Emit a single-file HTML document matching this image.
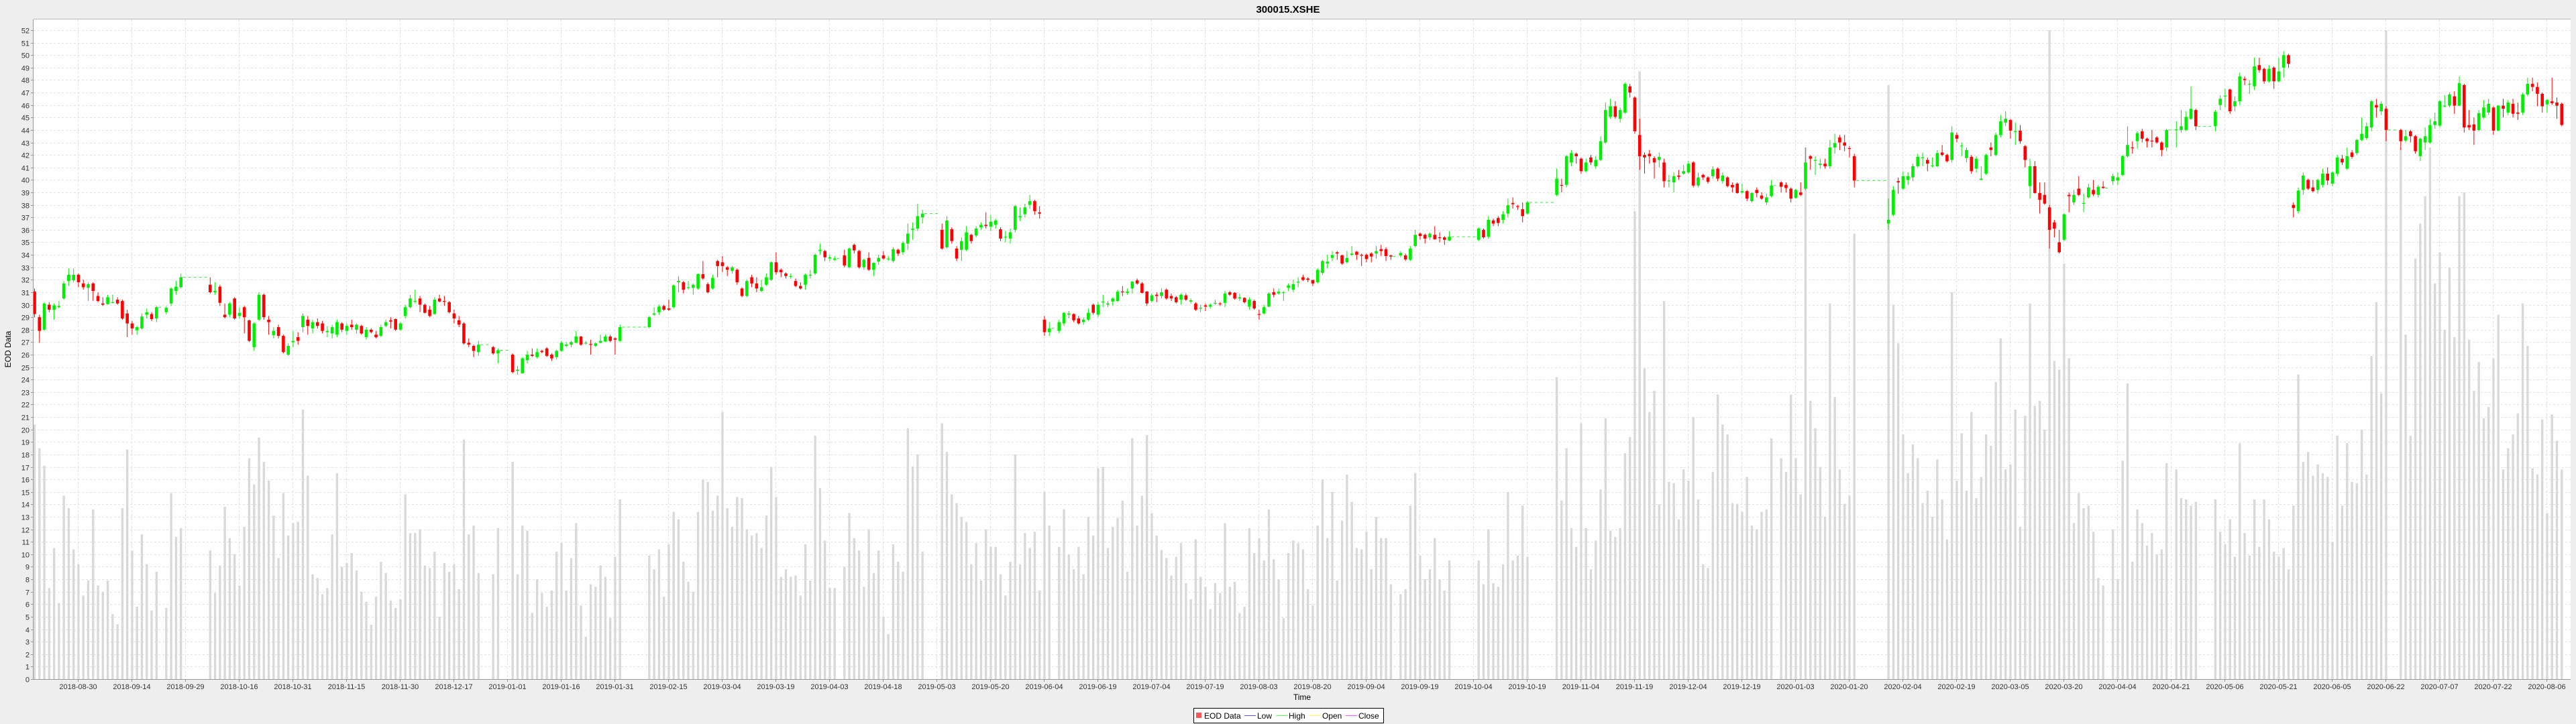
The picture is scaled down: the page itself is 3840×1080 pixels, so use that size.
<!DOCTYPE html>
<html><head><meta charset="utf-8"><title>300015.XSHE</title>
<style>
html,body{margin:0;padding:0;background:#eeeeee;}
svg{display:block;font-family:"Liberation Sans",Arial,sans-serif;}
</style></head>
<body>
<svg id="chart" width="3840" height="1080" viewBox="0 0 3840 1080" xmlns="http://www.w3.org/2000/svg">
<rect x="0" y="0" width="3840" height="1080" fill="#eeeeee"/>
<text x="1920" y="19" text-anchor="middle" font-size="15" font-weight="bold" fill="#000">300015.XSHE</text>
<rect x="50" y="29" width="3782" height="984" fill="#ffffff"/>
<g id="grid"></g>
<g id="vol"></g>
<g id="gaps"></g>
<g id="candles"></g>
<g id="axes"></g>
<text x="16" y="521" transform="rotate(-90 16 521)" text-anchor="middle" font-size="12" fill="#000">EOD Data</text>
<text x="1941" y="1044" text-anchor="middle" font-size="12" fill="#000">Time</text>
<g>
<rect x="1779.5" y="1056.5" width="283" height="22" fill="#fff" stroke="#000" stroke-width="1"/>
<rect x="1783" y="1063" width="8" height="8" fill="#ff5555"/>
<text x="1795" y="1072" font-size="12">EOD Data</text>
<line x1="1855" y1="1067.5" x2="1872" y2="1067.5" stroke="#5555ff"/>
<text x="1874" y="1072" font-size="12">Low</text>
<line x1="1902" y1="1067.5" x2="1919" y2="1067.5" stroke="#55ff55"/>
<text x="1921" y="1072" font-size="12">High</text>
<line x1="1952" y1="1067.5" x2="1969" y2="1067.5" stroke="#ffff55"/>
<text x="1971" y="1072" font-size="12">Open</text>
<line x1="2006" y1="1067.5" x2="2023" y2="1067.5" stroke="#ff55ff"/>
<text x="2025" y="1072" font-size="12">Close</text>
</g>
</svg>
<script>
const N=null;
const tickLabels=["2018-08-30","2018-09-14","2018-09-29","2018-10-16","2018-10-31","2018-11-15","2018-11-30","2018-12-17","2019-01-01","2019-01-16","2019-01-31","2019-02-15","2019-03-04","2019-03-19","2019-04-03","2019-04-18","2019-05-03","2019-05-20","2019-06-04","2019-06-19","2019-07-04","2019-07-19","2019-08-03","2019-08-20","2019-09-04","2019-09-19","2019-10-04","2019-10-19","2019-11-04","2019-11-19","2019-12-04","2019-12-19","2020-01-03","2020-01-20","2020-02-04","2020-02-19","2020-03-05","2020-03-20","2020-04-04","2020-04-21","2020-05-06","2020-05-21","2020-06-05","2020-06-22","2020-07-07","2020-07-22","2020-08-06"];
const tickDayIndex=9, tickEveryDays=11;
const rows=`31.06 29.25 31.3 29.0 20.4
29.0 27.9 29.2 26.95 18.5
28.0 30.1 30.2 27.9 17.1
30.0 29.6 30.2 29.4 7.3
29.6 29.95 30.1 28.8 10.5
29.8 29.9 30.3 29.7 6.1
30.5 31.7 31.9 30.4 14.7
31.9 32.4 32.9 31.5 13.7
31.95 32.4 32.9 31.8 10.4
32.4 31.8 32.5 31.4 9.2
31.7 31.4 32.0 31.2 6.7
31.35 31.65 31.8 30.3 7.9
31.7 31.1 31.8 30.3 13.6
30.7 30.3 31.0 30.2 7.5
30.1 30.0 30.6 29.9 7.0
30.05 30.6 30.8 30.0 7.9
30.2 30.2 30.8 30.1 5.2
30.4 30.1 30.6 30.0 4.4
30.3 28.9 30.4 28.8 13.7
29.3 28.5 29.6 27.4 18.4
28.5 28.1 28.7 27.6 10.3
27.95 28.2 28.3 27.6 5.8
28.1 29.05 29.3 28.0 11.6
29.2 29.4 29.7 28.9 9.2
29.25 28.85 29.4 28.7 5.5
28.9 29.8 29.9 28.6 8.6
-
29.4 29.75 29.9 29.2 5.7
30.1 31.3 31.4 29.9 14.9
31.1 31.45 31.9 30.8 11.4
31.4 32.2 32.5 31.3 12.1
-
-
-
-
-
31.6 31.0 32.2 30.9 10.3
31.0 31.1 31.8 30.8 6.9
31.45 30.15 31.6 29.9 9.1
29.2 29.0 30.1 28.9 13.8
29.2 30.1 30.2 29.0 11.3
30.5 28.9 30.6 28.8 10.0
29.1 29.35 29.8 28.9 7.5
29.8 29.0 29.9 27.7 12.2
28.75 27.1 28.8 27.0 17.7
26.6 28.5 28.6 26.3 15.6
28.8 30.8 31.0 28.7 19.35
30.8 29.0 30.9 28.8 17.4
28.8 28.6 29.1 27.6 15.9
27.55 27.9 28.2 27.3 13.1
28.2 27.5 28.4 27.3 9.7
27.5 26.2 27.6 26.1 14.9
26.0 26.7 26.9 25.9 11.5
27.0 27.1 27.9 26.6 12.5
27.4 27.1 27.8 26.8 12.6
28.2 29.1 29.3 27.8 21.6
28.8 28.3 29.1 27.6 16.3
28.1 28.6 28.8 27.7 8.4
28.6 28.3 28.9 28.1 8.1
28.5 27.9 28.7 27.7 6.8
27.8 27.9 28.3 27.4 7.3
27.7 28.2 28.4 27.3 11.6
27.6 28.6 28.8 27.4 16.5
28.5 28.0 28.6 27.8 9.0
27.9 28.3 28.5 27.6 9.3
28.4 28.2 28.8 28.0 10.1
28.0 28.4 28.5 27.7 8.7
28.3 27.7 28.4 27.6 7.0
27.4 28.0 28.2 27.2 6.2
28.0 27.8 28.1 27.7 4.35
27.6 27.4 27.9 27.3 6.6
27.5 28.2 28.4 27.4 9.4
28.3 28.6 28.8 28.2 8.5
28.75 28.65 29.0 28.1 6.3
28.85 28.0 28.9 27.9 5.7
28.0 28.5 28.6 27.9 6.4
29.1 29.8 30.0 28.9 14.8
29.8 30.5 30.8 29.7 11.7
30.3 30.3 31.2 30.1 11.7
30.5 30.0 30.7 29.4 12.0
30.0 29.35 30.1 29.3 9.1
29.6 29.1 29.9 29.0 8.9
29.25 30.4 30.6 29.2 10.2
30.5 30.25 30.8 30.2 5.0
30.3 30.25 30.7 29.9 9.3
30.2 29.4 30.3 29.3 8.6
29.3 28.9 29.6 28.5 9.2
28.75 28.4 29.1 28.2 7.2
28.5 26.9 28.6 26.8 19.2
26.95 26.8 27.3 26.6 11.6
26.7 26.3 26.8 25.8 12.3
26.2 26.8 27.1 25.9 8.5
-
-
26.6 26.1 26.7 26.0 8.4
26.1 26.35 26.5 25.3 12.1
-
-
26.0 24.6 26.1 24.5 17.4
24.7 24.8 25.1 24.4 8.4
24.5 25.7 25.8 24.5 12.3
25.55 26.0 26.3 25.3 11.9
26.0 25.9 26.5 25.8 5.3
25.8 26.2 26.5 25.7 8.0
26.3 26.2 26.4 26.1 6.9
26.5 25.9 26.6 25.8 5.8
26.0 25.7 26.1 25.5 7.1
25.8 26.3 26.4 25.6 10.2
26.3 26.95 27.1 26.2 10.9
26.7 26.8 27.0 26.6 7.1
26.8 27.0 27.1 26.6 9.7
26.95 27.45 27.9 26.9 12.5
27.45 26.8 27.5 26.7 5.9
26.9 26.95 27.1 26.8 3.4
26.85 26.8 27.2 26.0 7.6
26.7 26.9 27.0 26.6 7.4
26.95 27.1 27.6 26.9 9.1
27.05 27.45 27.6 27.0 8.2
27.45 27.1 27.6 27.0 4.9
27.3 27.2 27.4 26.0 9.8
27.1 28.2 28.4 27.0 14.4
-
-
-
-
-
28.2 29.0 29.1 28.1 9.9
29.2 29.3 29.8 29.1 8.8
29.4 29.85 30.0 29.2 10.4
29.9 29.6 30.0 29.5 6.6
29.7 29.6 30.4 29.5 10.8
29.8 31.55 31.6 29.7 13.4
31.8 31.9 32.3 31.0 12.8
31.8 31.2 31.9 30.9 9.4
31.35 31.4 31.9 31.2 7.8
31.35 31.6 31.7 30.8 7.0
31.3 32.45 32.5 31.2 13.4
32.45 32.1 33.5 32.0 16.0
31.65 31.0 31.8 30.9 15.8
31.3 32.15 32.4 31.2 13.5
33.5 33.1 33.6 32.2 14.7
33.4 33.1 33.9 32.6 21.4
33.0 32.8 33.1 32.3 13.7
32.7 33.0 33.1 32.5 12.2
32.8 31.8 32.9 31.6 14.6
31.3 30.7 31.4 30.6 14.5
30.7 31.9 32.0 30.6 12.0
32.2 31.7 32.4 31.4 11.5
31.7 31.3 32.2 31.0 11.7
31.1 31.4 32.0 31.0 10.5
31.6 32.2 32.5 31.5 13.1
32.0 33.4 33.5 31.9 17.0
33.4 32.6 34.2 32.4 14.6
32.8 32.6 32.9 32.2 8.2
32.5 32.3 32.6 32.1 8.8
32.3 32.3 32.5 32.1 8.2
31.9 31.5 32.1 31.4 8.3
31.5 31.3 31.8 31.2 6.7
31.6 32.4 32.5 31.2 10.8
32.35 32.4 32.8 32.1 7.9
32.5 34.0 34.1 32.4 19.5
34.3 34.4 34.9 34.0 15.3
34.3 33.8 34.4 33.5 11.1
33.7 33.8 34.0 33.5 7.3
33.6 33.7 33.9 33.5 7.3
-
33.95 33.15 34.4 33.0 9.0
33.0 34.5 34.6 32.9 13.3
34.8 34.35 34.9 34.1 11.3
34.3 33.0 34.4 32.9 10.3
33.0 33.6 33.7 32.8 7.4
33.75 32.8 34.2 32.7 12.0
32.8 33.35 33.4 32.3 8.5
33.45 33.75 34.0 33.2 10.3
33.95 33.7 34.3 33.6 5.0
33.7 33.7 33.9 33.5 3.6
33.5 34.45 34.6 33.4 10.8
34.4 34.1 34.5 33.9 9.4
34.2 34.95 35.1 34.0 8.6
34.9 35.7 36.5 34.4 20.1
36.0 36.1 36.6 35.2 17.05
36.1 37.1 38.1 35.9 18.0
37.0 37.3 37.6 36.5 10.2
-
-
-
36.0 34.5 36.5 34.4 20.5
34.6 36.75 37.1 34.5 18.2
36.05 35.1 36.2 34.9 14.8
34.5 33.7 34.7 33.5 14.1
34.4 35.1 35.4 33.5 13.0
34.4 35.8 36.3 34.3 12.6
35.6 35.1 35.7 34.9 9.2
35.55 36.1 36.3 35.4 10.9
36.2 36.4 36.6 36.0 7.9
36.4 36.3 37.4 36.1 12.0
36.25 36.65 37.2 35.9 10.6
36.4 36.75 36.9 36.1 10.6
36.05 35.3 36.2 35.1 8.4
35.4 35.45 35.9 35.0 6.7
35.3 35.8 36.1 34.9 9.4
36.0 37.9 38.0 35.8 18.0
37.0 37.1 37.8 36.7 9.2
37.25 37.8 38.1 37.0 11.7
38.0 38.3 38.8 37.7 10.5
38.3 37.5 38.4 37.2 11.8
37.4 37.3 37.9 36.9 7.1
28.8 27.8 29.1 27.5 15.0
27.8 28.1 28.6 27.5 12.3
-
27.9 28.6 28.8 27.7 10.6
28.5 29.35 29.4 28.3 13.6
29.2 29.3 29.5 28.9 10.0
29.25 28.75 29.3 28.6 8.8
28.9 28.5 29.1 28.4 10.6
28.6 28.8 29.0 28.4 8.4
28.8 29.35 29.7 28.7 13.0
30.0 29.35 30.1 29.2 11.5
29.2 30.0 30.2 29.0 16.9
30.2 30.25 30.8 29.8 17.0
30.0 30.1 30.3 29.8 10.5
30.25 30.5 30.6 29.9 12.2
30.3 31.05 31.2 30.2 12.9
31.06 31.0 31.5 30.7 14.3
30.95 31.05 31.3 30.8 8.6
31.3 31.85 31.9 30.9 19.3
31.95 31.7 32.1 31.6 12.3
31.7 30.95 31.8 30.9 14.7
31.05 30.1 31.1 29.9 19.55
30.3 30.75 30.9 30.2 13.3
30.8 30.7 31.0 30.2 11.5
30.7 31.0 31.3 30.5 10.35
31.2 30.5 31.3 30.4 9.7
30.7 30.5 30.9 30.3 8.3
30.6 30.2 30.7 30.1 9.8
30.4 30.8 30.9 30.0 10.9
30.75 30.4 30.9 30.3 7.7
30.25 30.35 30.5 30.1 6.4
30.1 29.6 30.2 29.5 11.2
29.7 29.75 30.0 29.4 8.2
29.95 29.85 30.1 29.5 7.4
29.85 30.0 30.1 29.7 5.6
30.1 30.15 30.4 30.0 7.7
30.1 30.05 30.2 29.9 6.9
30.15 30.9 31.1 29.8 12.5
31.0 30.8 31.1 30.7 7.4
30.95 30.5 31.0 30.4 7.8
30.5 30.6 30.9 30.3 5.3
30.55 30.2 30.6 30.1 5.8
29.85 30.4 30.6 29.6 12.1
30.3 29.7 30.4 29.6 10.1
29.25 29.2 29.6 28.8 11.3
29.3 29.8 30.0 29.2 9.5
29.85 30.9 31.0 29.8 13.6
31.0 30.8 31.3 30.6 9.6
30.9 31.05 31.3 30.8 8.0
30.95 31.0 31.1 30.3 4.9
31.35 31.55 31.7 31.1 10.1
31.2 31.65 32.0 31.0 11.1
31.78 31.85 32.2 31.4 10.9
32.2 31.99 32.4 31.9 10.4
32.1 31.99 32.2 31.8 7.2
31.98 31.7 32.0 31.5 5.9
31.8 32.8 32.9 31.7 12.3
32.55 33.5 33.6 32.4 16.0
33.3 33.45 34.0 32.9 11.3
33.75 33.98 34.3 33.5 15.0
34.2 34.1 34.3 33.6 7.9
33.96 33.3 34.0 33.2 12.7
33.4 33.75 34.3 33.3 16.4
34.0 34.1 34.7 33.9 14.2
34.25 34.0 34.3 33.6 10.5
34.0 33.93 34.1 33.1 10.4
34.0 33.66 34.1 33.4 11.8
34.1 33.86 34.2 33.4 8.8
34.1 34.3 34.7 33.7 13.0
34.45 34.3 34.8 33.9 11.3
34.45 33.9 34.6 33.5 11.3
33.95 33.86 34.0 33.6 7.6
-
33.95 34.15 34.3 33.8 6.8
33.95 33.63 34.1 33.5 7.2
33.6 34.5 34.7 33.5 13.9
34.7 35.6 36.0 34.6 16.5
35.7 35.5 35.8 35.2 9.9
35.6 35.3 35.7 34.9 8.0
35.4 35.7 35.8 35.2 8.8
35.6 35.25 36.3 35.2 11.3
35.4 35.35 35.8 35.0 8.0
35.4 35.2 35.5 34.8 7.1
35.15 35.45 35.9 35.1 9.5
-
-
-
-
-
35.2 36.1 36.2 35.1 9.5
36.0 35.4 36.1 35.3 7.6
35.45 36.8 37.1 35.3 12.0
36.75 36.5 36.9 36.3 7.7
36.95 36.55 37.1 36.3 7.4
36.8 37.25 37.5 36.5 9.2
37.3 37.97 38.5 37.0 15.0
38.15 38.05 38.6 37.7 9.5
37.9 37.85 38.0 37.6 9.9
37.65 37.1 38.2 36.6 13.9
37.3 38.2 38.3 37.2 9.8
-
-
-
-
-
38.8 40.1 40.9 38.7 24.2
39.6 39.55 40.1 39.0 14.3
39.6 41.9 42.0 39.4 18.5
41.4 42.15 42.4 41.1 12.1
42.1 41.9 42.2 41.3 10.6
41.7 40.7 41.8 40.5 20.5
40.7 41.4 41.7 40.6 12.1
41.8 41.4 42.0 41.2 8.8
41.1 41.6 41.9 40.9 11.1
41.6 43.1 43.5 41.5 15.2
43.0 45.6 46.2 42.9 20.9
45.05 45.9 46.5 44.9 11.9
45.9 45.05 46.3 44.9 11.4
44.9 45.6 45.8 44.6 12.1
45.4 47.7 47.8 45.3 18.1
47.5 47.0 47.7 46.6 19.4
46.6 43.9 46.7 43.7 37.5
43.6 41.9 44.9 40.8 48.7
42.0 41.8 42.2 40.5 24.9
42.1 41.9 42.4 41.3 21.4
41.75 41.4 41.9 40.1 23.1
41.6 41.85 42.2 41.0 14.0
41.4 39.9 41.7 39.4 30.3
39.9 39.95 40.4 39.4 15.8
39.8 40.3 40.6 39.0 15.7
40.35 40.25 40.8 40.0 12.8
40.5 40.7 41.2 40.4 16.8
40.6 41.3 41.5 40.5 15.9
41.4 39.55 41.5 39.4 21.0
39.55 40.2 40.6 39.4 14.4
40.4 40.2 40.5 40.0 9.2
40.2 39.85 40.3 39.7 8.9
40.3 40.85 41.1 40.1 16.6
40.9 40.1 41.0 39.9 22.8
39.9 40.35 40.6 39.7 20.4
40.2 39.5 40.3 39.4 19.6
39.6 39.4 39.8 39.0 14.1
39.7 38.95 39.8 38.9 14.05
39.0 39.1 39.7 38.9 13.4
39.1 38.5 39.2 38.3 16.2
38.3 38.95 39.0 38.2 12.3
39.2 38.95 39.4 38.6 12.0
38.75 38.5 39.0 38.4 13.4
38.2 38.6 38.9 38.0 13.6
38.7 39.55 40.0 38.6 19.3
-
39.8 39.45 39.9 39.0 17.7
39.6 39.35 39.8 39.0 16.6
39.3 38.5 39.4 38.2 22.8
38.55 39.2 39.3 38.5 17.7
39.0 38.8 39.8 38.7 14.8
39.3 41.4 42.6 39.2 42.6
41.9 41.7 42.0 40.8 22.3
41.6 41.6 41.9 40.4 20.1
41.2 41.3 41.7 40.9 17.0
41.3 41.1 41.7 40.9 13.0
41.1 42.6 43.2 40.9 30.1
42.6 42.95 43.7 42.1 22.6
43.4 43.0 43.6 42.4 16.8
43.0 42.75 43.6 42.3 14.05
42.55 42.5 42.7 41.8 14.7
41.9 39.95 42.1 39.4 35.7
-
-
-
-
-
-
36.5 36.8 38.5 36.0 47.6
37.2 39.2 39.5 37.1 30.0
39.9 39.8 40.2 38.9 26.9
39.3 40.3 40.7 39.2 19.6
40.0 40.3 40.6 39.6 16.5
40.2 41.1 41.3 39.9 18.8
41.1 41.85 42.1 41.0 17.7
41.75 41.8 42.2 41.1 14.1
41.6 41.3 41.8 40.7 15.1
41.1 41.15 41.8 41.0 13.0
41.1 42.15 42.4 41.0 17.6
42.2 42.0 42.8 41.9 14.4
42.0 41.5 42.1 41.4 11.2
41.6 43.8 44.3 41.4 31.0
43.6 43.3 43.8 43.0 15.9
42.7 42.75 43.0 41.9 19.7
41.75 42.4 42.6 41.4 15.1
41.85 40.7 42.0 40.5 21.4
40.9 41.7 41.9 40.6 14.5
40.0 40.1 41.1 40.0 16.2
40.5 42.0 42.1 40.4 19.6
42.6 42.4 43.0 41.9 18.7
42.0 43.6 43.8 41.9 23.8
43.6 44.7 45.2 43.4 27.3
44.6 44.9 45.5 44.3 16.8
44.8 43.95 44.9 43.3 17.2
43.9 43.9 44.6 42.8 21.6
43.95 43.1 44.4 42.9 12.2
42.7 41.6 42.8 41.0 21.1
39.5 41.1 41.7 38.5 30.1
41.1 38.95 41.5 38.9 21.9
38.95 38.4 39.8 37.3 22.3
38.8 38.1 39.8 38.0 20.0
37.8 36.0 38.0 34.5 52
36.6 36.1 36.8 35.4 25.5
35.0 34.2 36.0 34.1 24.8
35.2 37.25 37.3 35.1 33.3
38.8 38.7 39.0 37.4 25.7
38.2 38.8 39.2 38.0 12.5
39.3 38.8 40.3 38.7 14.9
38.1 38.15 38.9 37.4 13.7
38.6 39.4 39.7 38.5 13.9
39.2 38.85 40.0 38.7 11.8
38.8 39.45 39.6 38.6 8.1
39.45 39.35 39.9 39.3 7.5
-
39.9 40.3 40.5 39.6 12.0
39.95 40.2 40.6 39.6 8.0
40.4 41.9 42.0 40.3 17.5
41.9 42.8 44.3 41.8 23.7
42.6 42.55 43.1 42.1 9.4
43.1 43.75 43.9 42.5 13.6
43.9 43.3 44.1 43.0 12.5
43.3 43.1 43.4 42.6 10.7
43.15 43.1 44.0 42.6 11.7
43.4 43.0 43.5 42.9 10.0
43.0 42.4 43.1 41.9 10.4
42.6 44.0 44.1 42.3 17.3
-
44.0 44.05 44.7 42.6 16.8
44.0 44.3 45.6 43.8 14.5
44.0 45.05 45.5 43.9 14.4
44.9 45.7 47.5 44.8 13.9
45.6 44.3 45.7 44.0 14.2
-
-
-
44.3 45.45 45.6 43.9 14.4
46.0 46.5 46.8 45.6 11.8
46.7 46.75 47.3 45.8 10.8
47.25 45.5 47.3 45.3 12.8
45.9 46.3 46.7 45.5 9.8
46.3 48.3 48.6 46.0 18.9
48.1 48.0 48.3 47.6 11.7
47.65 47.7 48.0 46.9 9.9
47.5 49.1 49.8 47.2 14.4
49.2 48.8 49.8 48.6 10.6
48.9 47.9 49.0 47.7 14.4
47.9 48.9 49.2 47.8 12.8
49.0 47.9 49.1 47.3 10.2
47.9 48.7 49.8 47.8 9.8
49.0 50.0 50.3 48.2 10.5
50.0 49.3 50.1 49.0 8.8
38.0 37.75 38.2 37.0 13.9
37.5 39.15 39.4 37.3 24.4
39.2 40.35 40.6 38.8 17.4
40.0 39.3 40.1 39.2 18.2
39.4 39.1 40.0 39.0 16.3
39.2 40.0 40.1 38.9 17.2
39.6 40.5 40.9 39.4 16.5
40.5 39.95 41.0 39.6 16.2
39.7 40.6 40.7 39.5 11.0
40.5 41.8 42.0 40.3 19.5
41.7 41.4 42.0 41.2 13.9
40.9 41.9 42.6 40.8 18.9
42.2 41.85 42.4 41.7 15.8
42.15 43.2 43.3 42.0 15.7
43.2 43.7 45.0 43.1 20.0
43.35 44.3 44.6 43.2 16.4
44.2 46.3 46.4 43.9 25.9
46.0 45.8 46.5 45.0 30.2
45.5 46.1 46.3 45.2 22.9
45.7 44.0 45.9 43.1 52
-
-
44.0 43.1 44.1 42.4 42.6
43.15 43.5 44.0 43.0 27.6
43.9 43.5 44.0 43.0 19.5
43.5 42.3 43.6 42.1 33.7
41.9 43.3 43.4 41.5 36.5
43.0 43.5 44.2 42.4 38.7
43.0 44.4 44.9 42.9 42.6
44.4 44.7 45.4 44.1 31.7
44.35 46.3 46.4 44.2 34.2
45.9 45.95 46.8 45.8 28.0
45.95 46.85 47.0 45.8 33.0
46.7 45.95 47.1 45.3 27.4
45.95 47.75 48.3 45.9 38.7
47.6 44.2 47.7 43.8 39.0
44.4 44.2 45.6 44.0 27.2
44.45 43.95 45.0 42.8 23.1
44.0 45.35 45.6 43.9 25.4
45.0 45.8 46.4 44.9 20.9
45.4 46.1 46.5 45.2 21.8
45.8 43.95 45.9 43.6 25.7
43.95 45.95 46.0 43.9 29.2
45.95 45.7 46.5 45.0 16.8
45.4 46.2 46.4 45.2 18.5
46.1 45.3 46.5 45.0 19.6
45.4 45.3 46.2 44.8 21.3
45.4 46.85 47.0 45.2 30.1
46.85 47.7 48.2 46.7 26.7
47.7 47.45 48.2 47.1 16.9
47.45 46.9 47.8 45.9 16.4
46.9 45.9 47.0 45.4 20.8
46.05 46.4 46.5 45.4 13.3
46.3 46.15 48.2 46.0 21.2
46.2 45.95 46.6 44.9 19.1
46.1 44.4 46.2 44.3 16.8`;
// split the daily rows into separate named series arrays (null = no trading)
const openVals=[], closeVals=[], highVals=[], lowVals=[], volumeVals=[];
rows.split("\n").forEach(r=>{
  const t=r.trim();
  if(t==="-"){openVals.push(N);closeVals.push(N);highVals.push(N);lowVals.push(N);volumeVals.push(N);return;}
  const p=t.split(/\s+/).map(Number);
  openVals.push(p[0]);closeVals.push(p[1]);highVals.push(p[2]);lowVals.push(p[3]);volumeVals.push(p[4]);
});
const yTicks=[];for(let v=0;v<=52;v++)yTicks.push(v);

const NS="http://www.w3.org/2000/svg";
const PL=50,PR=3832,PT=29,PB=1013;
const X0=51.5, DX=80/11;
function xScale(i){return X0+i*DX;}
function yScale(v){return PB-v*(PB-45)/52;}
function mk(tag,attrs,parent){const e=document.createElementNS(NS,tag);for(const k in attrs)e.setAttribute(k,attrs[k]);parent.appendChild(e);return e;}

const grid=document.getElementById('grid'),axes=document.getElementById('axes');
yTicks.forEach(v=>{
  const y=Math.round(yScale(v))+0.5;
  const gl=mk('line',{x1:PL,x2:PR,y1:y,y2:y,stroke:'#e0e0e0','stroke-dasharray':'3,3','stroke-width':1},grid);
  
  
  const tk=mk('line',{x1:PL-4,x2:PL,y1:y,y2:y,stroke:'#999'},axes);
  
  
  const tx=mk('text',{x:PL-6,y:y+4,'text-anchor':'end','font-size':11,fill:'#333'},axes);
  tx.textContent=String(v);
  
  
});
tickLabels.forEach((lab,k)=>{
  const x=Math.round(xScale(tickDayIndex+k*tickEveryDays))-0.5;
  const gl=mk('line',{x1:x,x2:x,y1:PT,y2:PB,stroke:'#e0e0e0','stroke-dasharray':'3,3'},grid);
  
  
  const tk=mk('line',{x1:x,x2:x,y1:PB,y2:PB+4,stroke:'#999'},axes);
  
  
  const tx=mk('text',{x:x,y:PB+15,'text-anchor':'middle','font-size':11,fill:'#333'},axes);
  tx.textContent=lab;
  
  
});
const ax1=mk('line',{x1:PL-0.5,x2:PL-0.5,y1:PT,y2:PB,stroke:'#999'},axes);


const ax2=mk('line',{x1:PL,x2:PR,y1:PB+0.5,y2:PB+0.5,stroke:'#999'},axes);


const ax3=mk('line',{x1:PL,x2:PR,y1:PT-0.5,y2:PT-0.5,stroke:'#bbb'},axes);



const volG=document.getElementById('vol'),candG=document.getElementById('candles'),gapG=document.getElementById('gaps');
let lastClose=null,lastIdx=null;
for(let i=0;i<openVals.length;i++){
  const x=xScale(i);
  if(openVals[i]===null){continue;}
  if(lastIdx!==null && i-lastIdx>1){
    const yg=yScale(lastClose);
    const g=mk('line',{x1:xScale(lastIdx)+3,x2:x-3,y1:yg,y2:yg,stroke:'#33ee33','stroke-dasharray':'4,4','stroke-width':1},gapG);
    
    
  }
  const vv=Math.min(volumeVals[i],52.9);
  const b=mk('rect',{x:x-1.7,y:yScale(vv),width:3.4,height:PB-yScale(vv),fill:'#d9d9d9'},volG);
  
  
  const o=openVals[i],c=closeVals[i],up=c>=o,col=up?'#00ee00':'#ff0000';
  const w=mk('line',{x1:x,x2:x,y1:yScale(highVals[i]),y2:yScale(lowVals[i]),stroke:col,'stroke-width':1},candG);
  
  
  const top=yScale(Math.max(o,c)),bot=yScale(Math.min(o,c));
  const r=mk('rect',{x:x-2.3,y:top,width:4.6,height:Math.max(1.2,bot-top),fill:col},candG);
  
  
  lastClose=c;lastIdx=i;
}
</script>
</body></html>
